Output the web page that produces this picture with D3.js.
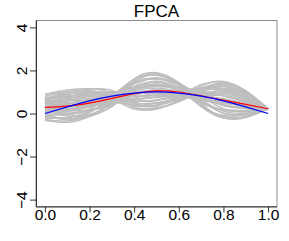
<!DOCTYPE html>
<html>
<head>
<meta charset="utf-8">
<script src="https://cdn.jsdelivr.net/npm/d3@7"></script>
<style>
  html, body { margin: 0; padding: 0; background: #fff; }
  svg { display: block; }
  text { font-family: "Liberation Sans", Arial, Helvetica, sans-serif; fill: #000; }
  .tick text { font-size: 15.5px; }
</style>
</head>
<body>
<div id="chart"></div>
<script>
// ---------- data ----------
const title = "FPCA";
const xGrid = [0, 0.1, 0.2, 0.3, 0.4, 0.5, 0.6, 0.7, 0.8, 0.9, 1.0];
const xTicks = [0, 0.2, 0.4, 0.6, 0.8, 1.0];
const xTickLabels = ["0.0", "0.2", "0.4", "0.6", "0.8", "1.0"];
const yTicks = [-4, -2, 0, 2, 4];
const yTickLabels = ["\u22124", "\u22122", "0", "2", "4"];

// estimated (red) mean curve
const estMean = [0.28, 0.34, 0.48, 0.70, 0.92, 1.05, 1.00, 0.82, 0.62, 0.42, 0.22];
// true (blue) mean curve
const trueMean = [0.00, 0.31, 0.59, 0.81, 0.95, 1.00, 0.95, 0.81, 0.59, 0.31, 0.00];

// grey sample curves (values at xGrid)
const c01 = [-0.33, -0.41, -0.13, 0.59, 1.61, 1.89, 1.42, 0.48, -0.19, -0.19, 0.21];
const c02 = [-0.09, -0.25, -0.14, 0.38, 1.41, 1.79, 1.27, 0.33, -0.21, -0.15, 0.23];
const c03 = [-0.13, -0.26, 0.04, 0.78, 1.60, 1.79, 1.44, 0.68, 0.00, -0.05, 0.22];
const c04 = [0.04, -0.11, -0.06, 0.32, 1.24, 1.63, 1.16, 0.33, -0.09, -0.06, 0.24];
const c05 = [-0.21, -0.20, 0.09, 0.70, 1.42, 1.62, 1.32, 0.65, 0.11, 0.02, 0.20];
const c06 = [0.11, -0.04, 0.22, 0.85, 1.46, 1.59, 1.37, 0.80, 0.23, 0.13, 0.23];
const c07 = [-0.08, -0.04, 0.12, 0.50, 1.17, 1.45, 1.13, 0.54, 0.16, 0.09, 0.21];
const c08 = [0.24, 0.13, 0.16, 0.41, 1.05, 1.36, 1.04, 0.48, 0.19, 0.15, 0.24];
const c09 = [0.10, 0.09, 0.33, 0.81, 1.25, 1.36, 1.22, 0.83, 0.40, 0.24, 0.22];
const c10 = [0.26, 0.20, 0.33, 0.66, 1.09, 1.26, 1.10, 0.72, 0.41, 0.28, 0.23];
const c11 = [0.10, 0.16, 0.46, 0.95, 1.21, 1.25, 1.22, 0.98, 0.57, 0.35, 0.21];
const c12 = [0.26, 0.30, 0.36, 0.49, 0.86, 1.10, 0.94, 0.62, 0.47, 0.34, 0.22];
const c13 = [0.44, 0.39, 0.52, 0.78, 0.98, 1.08, 1.05, 0.89, 0.64, 0.45, 0.24];
const c14 = [0.16, 0.35, 0.41, 0.44, 0.71, 0.94, 0.82, 0.63, 0.58, 0.40, 0.21];
const c15 = [0.49, 0.48, 0.65, 0.92, 0.94, 0.96, 1.05, 1.04, 0.82, 0.56, 0.23];
const c16 = [0.20, 0.42, 0.61, 0.77, 0.79, 0.87, 0.93, 0.93, 0.82, 0.55, 0.20];
const c17 = [0.46, 0.58, 0.63, 0.61, 0.63, 0.77, 0.81, 0.83, 0.83, 0.59, 0.22];
const c18 = [0.47, 0.59, 0.81, 1.02, 0.83, 0.77, 0.99, 1.17, 1.04, 0.70, 0.22];
const c19 = [0.70, 0.75, 0.77, 0.70, 0.56, 0.64, 0.78, 0.94, 0.99, 0.72, 0.24];
const c20 = [0.47, 0.68, 0.88, 0.97, 0.67, 0.61, 0.87, 1.18, 1.15, 0.78, 0.21];
const c21 = [0.64, 0.82, 0.81, 0.59, 0.37, 0.48, 0.63, 0.89, 1.07, 0.78, 0.23];
const c22 = [0.49, 0.78, 0.95, 0.93, 0.53, 0.47, 0.78, 1.19, 1.26, 0.86, 0.21];
const c23 = [0.70, 0.91, 0.96, 0.79, 0.37, 0.37, 0.66, 1.09, 1.27, 0.90, 0.23];
const c24 = [0.89, 1.01, 1.12, 1.07, 0.49, 0.35, 0.78, 1.34, 1.44, 1.01, 0.24];
const c25 = [0.66, 0.98, 1.01, 0.71, 0.20, 0.22, 0.54, 1.06, 1.37, 0.97, 0.22];
const c26 = [0.89, 1.09, 1.15, 0.94, 0.30, 0.21, 0.63, 1.27, 1.49, 1.06, 0.23];
const d01 = [0.02, -0.30, -0.05, 0.48, 1.50, 1.84, 1.33, 0.40, -0.18, -0.16, 0.22];
const d02 = [-0.20, -0.18, 0.08, 0.62, 1.38, 1.66, 1.30, 0.58, 0.03, -0.02, 0.21];
const d03 = [0.15, 0.02, 0.18, 0.55, 1.20, 1.50, 1.15, 0.52, 0.17, 0.10, 0.23];
const d04 = [0.33, 0.18, 0.30, 0.72, 1.16, 1.30, 1.16, 0.78, 0.36, 0.25, 0.24];
const d05 = [0.12, 0.22, 0.40, 0.63, 1.02, 1.18, 1.02, 0.70, 0.50, 0.33, 0.21];
const d06 = [0.36, 0.33, 0.47, 0.74, 0.95, 1.03, 1.00, 0.85, 0.60, 0.42, 0.22];
const d07 = [0.55, 0.50, 0.55, 0.66, 0.86, 0.98, 0.92, 0.80, 0.70, 0.49, 0.23];
const d08 = [0.30, 0.46, 0.64, 0.82, 0.80, 0.84, 0.95, 0.98, 0.85, 0.58, 0.21];
const d09 = [0.60, 0.64, 0.70, 0.72, 0.68, 0.74, 0.86, 0.92, 0.92, 0.64, 0.22];
const d10 = [0.52, 0.70, 0.84, 0.86, 0.60, 0.60, 0.82, 1.08, 1.08, 0.76, 0.23];
const d11 = [0.75, 0.80, 0.88, 0.76, 0.47, 0.50, 0.70, 1.02, 1.17, 0.85, 0.22];
const d12 = [0.58, 0.88, 0.99, 0.90, 0.42, 0.40, 0.72, 1.17, 1.31, 0.93, 0.24];
const d13 = [0.80, 1.00, 1.06, 0.82, 0.28, 0.27, 0.58, 1.14, 1.40, 1.01, 0.22];
const d14 = [-0.28, -0.35, -0.10, 0.50, 1.52, 1.80, 1.34, 0.42, -0.14, -0.14, 0.20];
const greyCurves = [c01, c02, c03, c04, c05, c06, c07, c08, c09, c10, c11, c12, c13,
                    c14, c15, c16, c17, c18, c19, c20, c21, c22, c23, c24, c25, c26,
                    d01, d02, d03, d04, d05, d06, d07, d08, d09, d10, d11, d12, d13, d14];

// ---------- layout ----------
const W = 289, H = 241;
const box = { left: 36, right: 277, top: 20.5, bottom: 206.5 };

const svg = d3.select("#chart").append("svg")
  .attr("width", W).attr("height", H);

const x = d3.scaleLinear().domain([-0.04, 1.04]).range([box.left, box.right]);
const y = d3.scaleLinear().domain([-4.32, 4.32]).range([box.bottom, box.top]);

const line = d3.line()
  .x((d, i) => x(xGrid[i]))
  .y(d => y(d))
  .curve(d3.curveNatural);

const plot = svg.append("g");

plot.selectAll("path.grey").data(greyCurves).enter().append("path")
  .attr("class", "grey")
  .attr("d", line)
  .attr("fill", "none")
  .attr("stroke", "#bebebe")
  .attr("stroke-width", 1.4);

plot.append("path").attr("d", line(estMean))
  .attr("fill", "none").attr("stroke", "#ff0000").attr("stroke-width", 1.2);
plot.append("path").attr("d", line(trueMean))
  .attr("fill", "none").attr("stroke", "#0000ff").attr("stroke-width", 1.2);

// box
svg.append("rect")
  .attr("x", box.left).attr("y", box.top)
  .attr("width", box.right - box.left).attr("height", box.bottom - box.top)
  .attr("fill", "none").attr("stroke", "#8c8c8c").attr("stroke-width", 1);

const font = '"Liberation Sans", Arial, sans-serif';

// x axis
const xAxis = d3.axisBottom(x).tickValues(xTicks)
  .tickFormat((d, i) => xTickLabels[i]).tickSizeInner(6).tickSizeOuter(0).tickPadding(-4);
const gx = svg.append("g").attr("transform", `translate(0,${box.bottom})`).call(xAxis)
  .attr("font-size", null);
gx.select(".domain").attr("d", `M${box.left},0.5H${box.right}`).attr("stroke", "#333");
gx.selectAll(".tick line").attr("stroke", "#333");
gx.selectAll(".tick text").attr("dy", "0.71em")
  .style("font-size", "15.5px")
  .style("font-family", font).attr("fill", "#000");

// y axis
const yAxis = d3.axisLeft(y).tickValues(yTicks)
  .tickFormat((d, i) => yTickLabels[i]).tickSizeInner(6).tickSizeOuter(0);
const gy = svg.append("g").attr("transform", `translate(${box.left},0)`).call(yAxis)
  .attr("font-size", null);
gy.select(".domain").attr("d", `M0.5,${box.top}V${box.bottom}`).attr("stroke", "#333");
gy.selectAll(".tick line").attr("stroke", "#333");
gy.selectAll(".tick text")
  .attr("x", null).attr("dy", null)
  .attr("text-anchor", "middle")
  .attr("transform", "translate(-9,0) rotate(-90)")
  .style("font-size", "15.5px")
  .style("font-family", font).attr("fill", "#000");

// title
svg.append("text")
  .attr("x", (box.left + box.right) / 2).attr("y", 17)
  .attr("text-anchor", "middle")
  .style("font-size", "17px")
  .style("font-family", font)
  .text(title);
</script>
</body>
</html>
